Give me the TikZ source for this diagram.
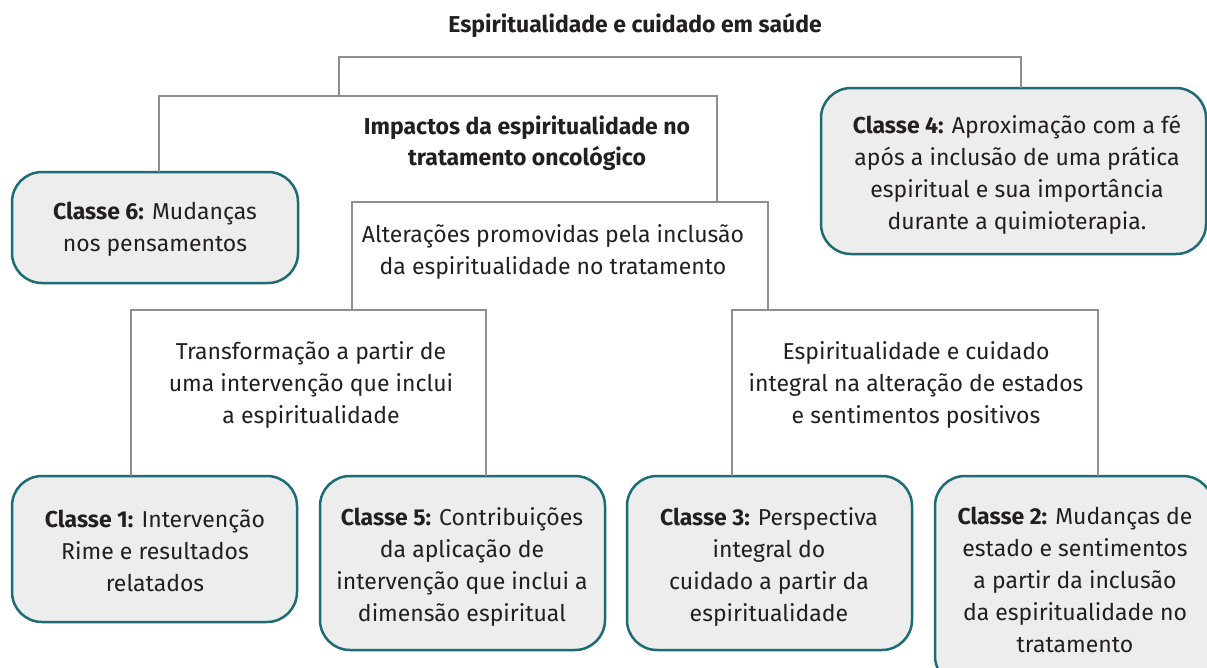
\documentclass[tikz,border=0pt]{standalone}
\usepackage{fontspec}
\setmainfont{Fira Sans}
\definecolor{boxedge}{HTML}{1D6B75}
\definecolor{boxfill}{HTML}{EDEDED}
\definecolor{linegray}{HTML}{8E8E8E}
\definecolor{txt}{HTML}{231F20}
\begin{document}
\begin{tikzpicture}[x=1pt,y=-1pt,
  cls/.style={draw=boxedge, line width=2.5pt, fill=boxfill, rounded corners=30pt, inner sep=0pt},
  lbl/.style={align=center, text=txt, inner sep=0pt, font=\fontsize{23}{32}\selectfont},
  blbl/.style={lbl, font=\bfseries\fontsize{23}{31}\selectfont},
  conn/.style={draw=linegray, line width=2pt}]
\useasboundingbox (0,0) rectangle (1207,667);
\begin{scope}
\clip (0,0) rectangle (1207,667);
% class boxes
\node[cls, minimum width=286pt, minimum height=111pt] (c6) at (155,227.5) {};
\node[cls, minimum width=385pt, minimum height=166pt] (c4) at (1013.5,171) {};
\node[cls, minimum width=285pt, minimum height=146pt] (c1) at (154.5,549) {};
\node[cls, minimum width=285pt, minimum height=174pt] (c5) at (462.5,563) {};
\node[cls, minimum width=285pt, minimum height=174pt] (c3) at (769.5,563) {};
\node[cls, minimum width=278pt, minimum height=210pt] (c2) at (1074,581) {};
\end{scope}
% texts in boxes
\node[lbl] (t6) at (155,229) {\textbf{Classe 6:} Mudanças\\nos pensamentos};
\node[lbl] (t4) at (1017,175) {\textbf{Classe 4:} Aproximação com a fé\\após a inclusão de uma prática\\espiritual e sua importância\\durante a quimioterapia.};
\node[lbl] (t1) at (155,551) {\textbf{Classe 1:} Intervenção\\Rime e resultados\\relatados};
\node[lbl] (t5) at (462,567) {\textbf{Classe 5:} Contribuições\\da aplicação de\\intervenção que inclui a\\dimensão espiritual};
\node[lbl] (t3) at (769,567) {\textbf{Classe 3:} Perspectiva\\integral do\\cuidado a partir da\\espiritualidade};
\node[lbl] (t2) at (1075,580) {\textbf{Classe 2:} Mudanças de\\estado e sentimentos\\a partir da inclusão\\da espiritualidade no\\tratamento};
% cluster labels
\node[blbl] (root) at (635,25) {Espiritualidade e cuidado em saúde};
\node[blbl] (lb) at (527,143) {Impactos da espiritualidade no\\tratamento oncológico};
\node[lbl] (lc) at (553,252) {Alterações promovidas pela inclusão\\da espiritualidade no tratamento};
\node[lbl] (le) at (311,385) {Transformação a partir de\\uma intervenção que inclui\\a espiritualidade};
\node[lbl] (ld) at (916,385) {Espiritualidade e cuidado\\integral na alteração de estados\\e sentimentos positivos};
% junction coordinates
\coordinate (jB) at (339,96);
\coordinate (jC) at (717,202);
\coordinate (jE) at (352,310);
\coordinate (jD) at (768,310);
\coordinate (c4top) at (1021,88);
\coordinate (c6top) at (159,172);
\coordinate (c1top) at (131,476);
\coordinate (c5top) at (486,476);
\coordinate (c3top) at (732,476);
\coordinate (c2top) at (1098,476);
% connectors (dendrogram)
\draw[conn] (jB) |- (c4top |- 0,57) -- (c4top);
\draw[conn] (c6top) |- (jC |- jB) -- (jC);
\draw[conn] (jE) |- (jD |- jC) -- (jD);
\draw[conn] (c1top) |- (c5top |- jE) -- (c5top);
\draw[conn] (c3top) |- (c2top |- jD) -- (c2top);
\end{tikzpicture}
\end{document}
